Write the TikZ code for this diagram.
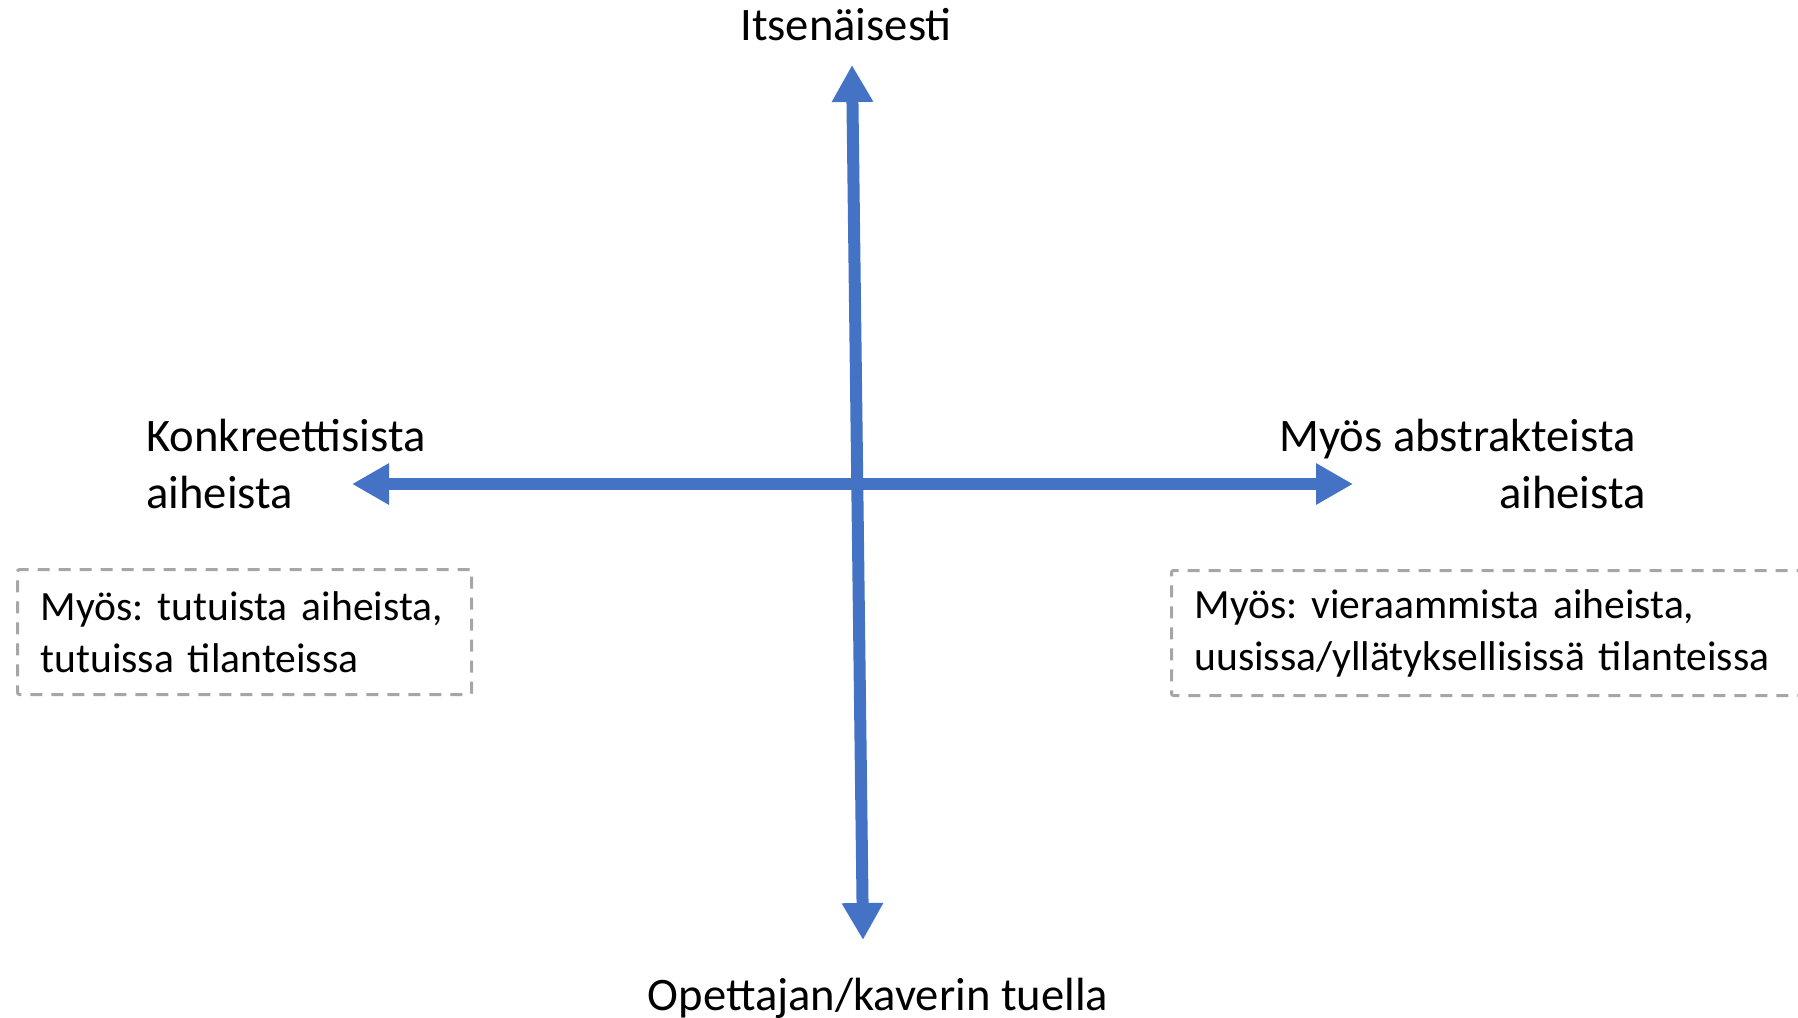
\documentclass[tikz,border=0pt]{standalone}
\usepackage{fontspec}
\setmainfont{Carlito}
\usetikzlibrary{arrows.meta}
\definecolor{axisblue}{HTML}{4472C4}
\definecolor{notegray}{HTML}{A6A6A6}

\begin{document}
\begin{tikzpicture}[x=0.5pt, y=-0.5pt,
      axis/.style = {draw=axisblue, line width=6pt,
      {Triangle[length=18.5pt,width=19.5pt]}-{Triangle[length=18.5pt,width=19.5pt]}},
      lbl/.style = {font=\fontsize{23.3}{28.5}\selectfont, inner sep=0pt},
      note/.style = {draw=notegray, line width=1.5pt, dash pattern=on 6pt off 4.5pt,
      rounded corners=1pt, font=\fontsize{20.8}{26}\selectfont\frenchspacing, align=left,
      inner xsep=11.5pt, inner ysep=0pt, minimum height=62.5pt, anchor=north west} ]

   \useasboundingbox (0,0) rectangle (1798,1017);

   \coordinate (top) at (852,65);
   \coordinate (bot) at (863,940);
   \coordinate (lft) at (352,484);
   \coordinate (rgt) at (1353,484);

   \draw[axis] (bot) -- (top);
   \draw[axis] (lft) -- (rgt);

   \node[lbl, anchor=base] (indep) at (846,40) {Itsenäisesti};
   \node[lbl, anchor=base] (support) at (878,1010) {Opettajan/kaverin tuella};
   \node[lbl, align=left, anchor=base west] (concrete) at (146,508)
{Konkreettisista\\aiheista};
   \node[lbl, align=right, anchor=base east] (abstract) at (1636,508)
{Myös abstrakteista\\aiheista\kern-5pt};

   \node[note, text width=204pt] (familiar) at (16,568)
{\hbox{Myös: tutuista aiheista,}\\tutuissa tilanteissa};
   \node[note, text width=307pt] (novel) at (1170,569)
{Myös: vieraammista aiheista,\\uusissa/yllätyksellisissä tilanteissa};
\end{tikzpicture}
\end{document}
